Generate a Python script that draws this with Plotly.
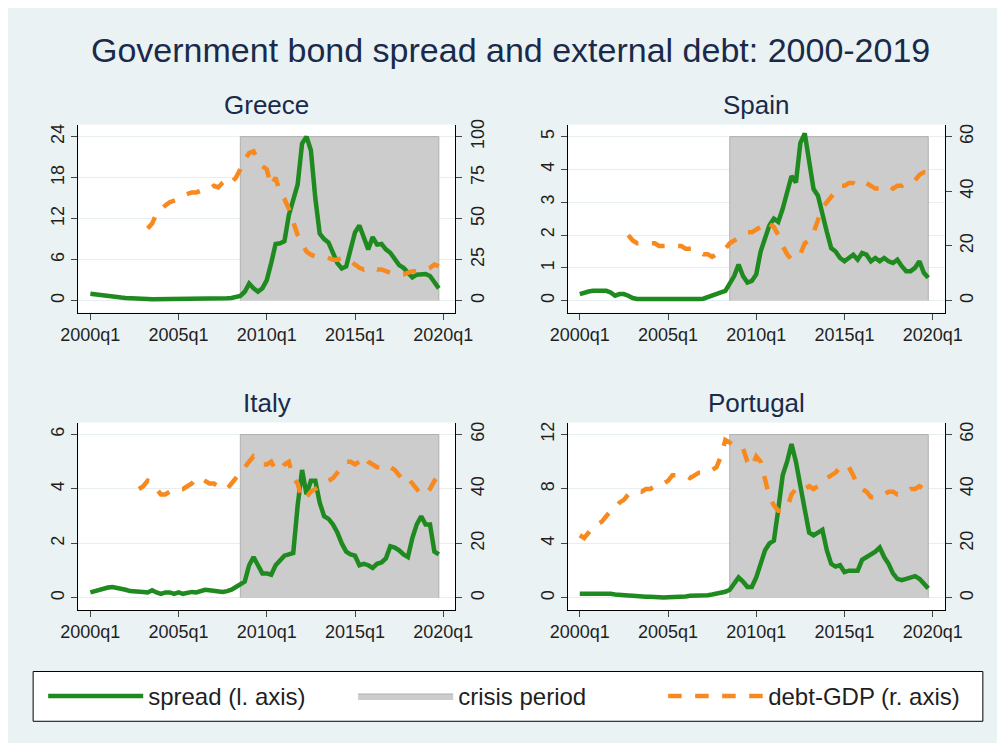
import plotly.graph_objects as go

quarters = [2000 + i / 4 for i in range(80)]
N = None
# quarterly values 2000q1..2019q4 (4 per year)
greece_spread = [1.0,0.9,0.8,0.7, 0.6,0.5,0.5,0.45, 0.4,0.4,0.35,0.3, 0.3,0.25,0.2,0.2,
                 0.2,0.25,0.25,0.2, 0.2,0.2,0.25,0.25, 0.3,0.3,0.3,0.3, 0.25,0.3,0.3,0.35,
                 0.4,0.5,0.7,1.3, 2.5,1.8,1.3,1.8, 3.0,5.5,8.3,8.4, 8.7,12.5,15.0,17.0,
                 23.0,24.0,22.0,15.0, 9.8,9.0,8.5,7.0, 5.5,4.7,5.0,7.5, 10.0,11.0,9.0,7.5,
                 9.3,8.2,8.3,7.5, 7.0,6.0,5.2,4.8, 4.2,3.4,3.8,3.8, 3.9,3.6,2.8,1.8]
greece_debt = [N,N,N,N, N,N,N,N, N,N,N,N, N,44,47,53,
               56,58,60,61, 62,64,65,66, 66,67,67,68, 70,69,72,74,
               72,75,80,86, 90,91,86,82, 80,70,75,66, 62,56,48,40,
               35,30,28,27, 27,27,26,25, 25,26,26,24, 22,20,19,20,
               20,19,19,18, 17,17,16,16, 17,18,18,19, 19,20,22,21]
spain_spread = [0.2,0.25,0.28,0.3, 0.3,0.3,0.3,0.25, 0.15,0.2,0.2,0.15, 0.08,0.05,0.05,0.05,
                0.05,0.05,0.04,0.02, 0.02,0.03,0.04,0.02, 0.02,0.03,0.04,0.05, 0.06,0.1,0.15,0.2,
                0.25,0.3,0.5,0.75, 1.1,0.75,0.55,0.6, 0.8,1.5,1.9,2.3, 2.5,2.4,2.8,3.3,
                3.8,3.6,4.8,5.1, 4.2,3.4,3.2,2.6, 2.1,1.6,1.5,1.3, 1.2,1.3,1.4,1.25,
                1.45,1.4,1.2,1.3, 1.2,1.3,1.2,1.15, 1.25,1.05,0.9,0.9, 1.0,1.2,0.85,0.7]
spain_debt = [N,N,N,N, N,N,N,N, N,N,N,24, 22,21,21,21,
              21,21,20,20, 20,20,20,20, 19,19,19,18, 17,17,16,17,
              18,19,21,22, 23,24,25,25, 26,27,26,28, 27,24,20,17,
              15,16,17,21, 22,25,30,34, 36,38,40,42, 42,43,43,42,
              42,43,42,41, 41,42,42,41, 42,42,43,43, 44,46,47,47]
italy_spread = [0.2,0.25,0.3,0.35, 0.38,0.4,0.38,0.35, 0.3,0.25,0.25,0.22, 0.22,0.2,0.28,0.2,
                0.15,0.2,0.2,0.15, 0.2,0.15,0.2,0.22, 0.2,0.25,0.3,0.28, 0.25,0.25,0.22,0.25,
                0.3,0.4,0.5,0.6, 1.2,1.5,1.2,0.9, 0.9,0.85,1.2,1.4, 1.55,1.6,1.65,3.4,
                4.7,3.8,4.3,4.3, 3.5,3.0,2.9,2.7, 2.4,2.0,1.7,1.6, 1.55,1.2,1.25,1.2,
                1.1,1.25,1.3,1.45, 1.9,1.85,1.75,1.6, 1.5,2.2,2.7,3.0, 2.7,2.7,1.7,1.6]
italy_debt = [N,N,N,N, N,N,N,N, N,N,N,40, 41,43,42,40,
              38,38,39,39, 40,40,41,42, 44,44,43,42, 42,41,41,40,
              42,44,46,48, 50,52,51,49, 49,50,47,47, 49,50,44,42,
              36,37,39,40, 41,42,43,44, 46,48,50,50, 49,50,52,50,
              49,48,48,47, 48,47,45,43, 44,42,40,38, 38,40,43,45]
portugal_spread = [0.3,0.3,0.35,0.35, 0.35,0.35,0.3,0.3, 0.25,0.2,0.22,0.18, 0.15,0.1,0.1,0.08,
                   0.08,0.05,0.05,0.03, 0.05,0.05,0.1,0.1, 0.1,0.15,0.15,0.15, 0.15,0.2,0.25,0.3,
                   0.35,0.45,0.6,1.0, 1.5,1.2,0.8,0.8, 1.5,2.5,3.5,4.0, 4.2,6.5,9.0,10.0,
                   11.3,10.0,8.0,6.5, 4.8,4.6,4.8,5.0, 3.5,2.5,2.3,2.4, 1.9,2.0,2.0,2.0,
                   2.8,3.0,3.2,3.4, 3.7,3.0,2.5,1.8, 1.4,1.3,1.4,1.5, 1.6,1.4,1.0,0.7]
portugal_debt = [23,22,24,26, 27,28,30,32, 33,35,36,38, 38,39,39,40,
                 40,41,41,42, 43,45,45,45, 45,44,45,46, 46,46,47,48,
                 52,58,57,56, 55,55,50,48, 52,50,43,37, 34,32,32,33,
                 38,40,39,40, 41,40,41,43, 44,45,46,48, 47,48,45,41,
                 40,39,37,37, 38,38,39,39, 38,38,39,40, 40,41,40,41]

panels = [
    ("Greece", greece_spread, greece_debt, 24, [0, 6, 12, 18, 24], 100, [0, 25, 50, 75, 100]),
    ("Spain", spain_spread, spain_debt, 5, [0, 1, 2, 3, 4, 5], 60, [0, 20, 40, 60]),
    ("Italy", italy_spread, italy_debt, 6, [0, 2, 4, 6], 60, [0, 20, 40, 60]),
    ("Portugal", portugal_spread, portugal_debt, 12, [0, 4, 8, 12], 60, [0, 20, 40, 60]),
]
crisis_start, crisis_end = 2008.5, 2019.75
xticks = [2000, 2005, 2010, 2015, 2020]
xlabels = ["2000q1", "2005q1", "2010q1", "2015q1", "2020q1"]

xdoms = [[0.070, 0.445], [0.557, 0.932]]
ydoms = [[0.590, 0.843], [0.190, 0.442]]
GREEN = "#1f8a1f"
ORANGE = "#f7891f"
TXT = "#1f1f1f"

fig = go.Figure()
layout = {}
for i, (name, sp, debt, top, lt, rtop, rt) in enumerate(panels):
    k = i + 1
    xs = "" if k == 1 else str(k)
    ys_l = "" if k == 1 else str(k)
    ys_r = str(k + 4)
    xd = xdoms[i % 2]
    yd = ydoms[i // 2]
    lo, hi = -0.073, 1.073
    layout["xaxis" + xs] = dict(domain=xd, anchor="y" + ys_l, range=[1999.32, 2020.68],
                                tickvals=xticks, ticktext=xlabels, ticks="outside", ticklen=6,
                                showline=True, linecolor="black", showgrid=False, zeroline=False,
                                tickfont=dict(size=18, color=TXT))
    layout["yaxis" + ys_l] = dict(domain=yd, anchor="x" + xs, range=[lo * top, hi * top],
                                  tickvals=lt, ticks="outside", ticklen=6, tickangle=-90,
                                  showline=True, linecolor="black", showgrid=True,
                                  gridcolor="#e6eef1", zeroline=False,
                                  tickfont=dict(size=18, color=TXT))
    layout["yaxis" + ys_r] = dict(overlaying="y" + ys_l, side="right", anchor="x" + xs,
                                  range=[lo * rtop, hi * rtop], tickvals=rt, ticks="outside",
                                  ticklen=6, tickangle=-90, showline=True, linecolor="black",
                                  showgrid=False, zeroline=False,
                                  tickfont=dict(size=18, color=TXT))
    fig.add_trace(go.Scatter(x=[crisis_start, crisis_start, crisis_end, crisis_end],
                             y=[0, top, top, 0], fill="toself", mode="lines",
                             fillcolor="#cccccc", line=dict(color="#b0b0b0", width=1),
                             name="crisis period", showlegend=(k == 1), legendrank=2,
                             xaxis="x" + xs, yaxis="y" + ys_l, hoverinfo="skip"))
    fig.add_trace(go.Scatter(x=quarters, y=sp, mode="lines", line=dict(color=GREEN, width=4.5),
                             name="spread (l. axis)", showlegend=(k == 1), legendrank=1,
                             xaxis="x" + xs, yaxis="y" + ys_l))
    fig.add_trace(go.Scatter(x=quarters, y=debt, mode="lines",
                             line=dict(color=ORANGE, width=4.5, dash="dash"),
                             name="debt-GDP (r. axis)", showlegend=(k == 1), legendrank=3,
                             xaxis="x" + xs, yaxis="y" + ys_r))
    fig.add_annotation(text=name, x=(xd[0] + xd[1]) / 2, y=yd[1] + 0.004, xref="paper",
                       yref="paper", xanchor="center", yanchor="bottom", showarrow=False,
                       font=dict(size=26, color="#1a2a4a"))

fig.update_layout(**layout)
fig.add_annotation(text="Government bond spread and external debt: 2000-2019", x=0.5, y=0.943,
                   xref="paper", yref="paper", xanchor="center", yanchor="middle",
                   showarrow=False, font=dict(size=34, color="#1a2a4a"))
fig.add_shape(type="rect", xref="paper", yref="paper", x0=0.025, x1=0.97, y0=0.04, y1=0.107,
              line=dict(color="black", width=1), fillcolor="white", layer="below")
fig.update_layout(
    width=1005, height=743, margin=dict(l=0, r=0, t=0, b=0, autoexpand=False),
    paper_bgcolor="#eaf2f3", plot_bgcolor="white",
    font=dict(family="Liberation Sans, Arial, sans-serif", color=TXT),
    legend=dict(orientation="h", x=0.035, y=0.0735, xanchor="left", yanchor="middle",
                bgcolor="rgba(0,0,0,0)", font=dict(size=24, color=TXT),
                entrywidth=200, itemwidth=95, traceorder="normal"),
)
fig.write_html("out.html")
